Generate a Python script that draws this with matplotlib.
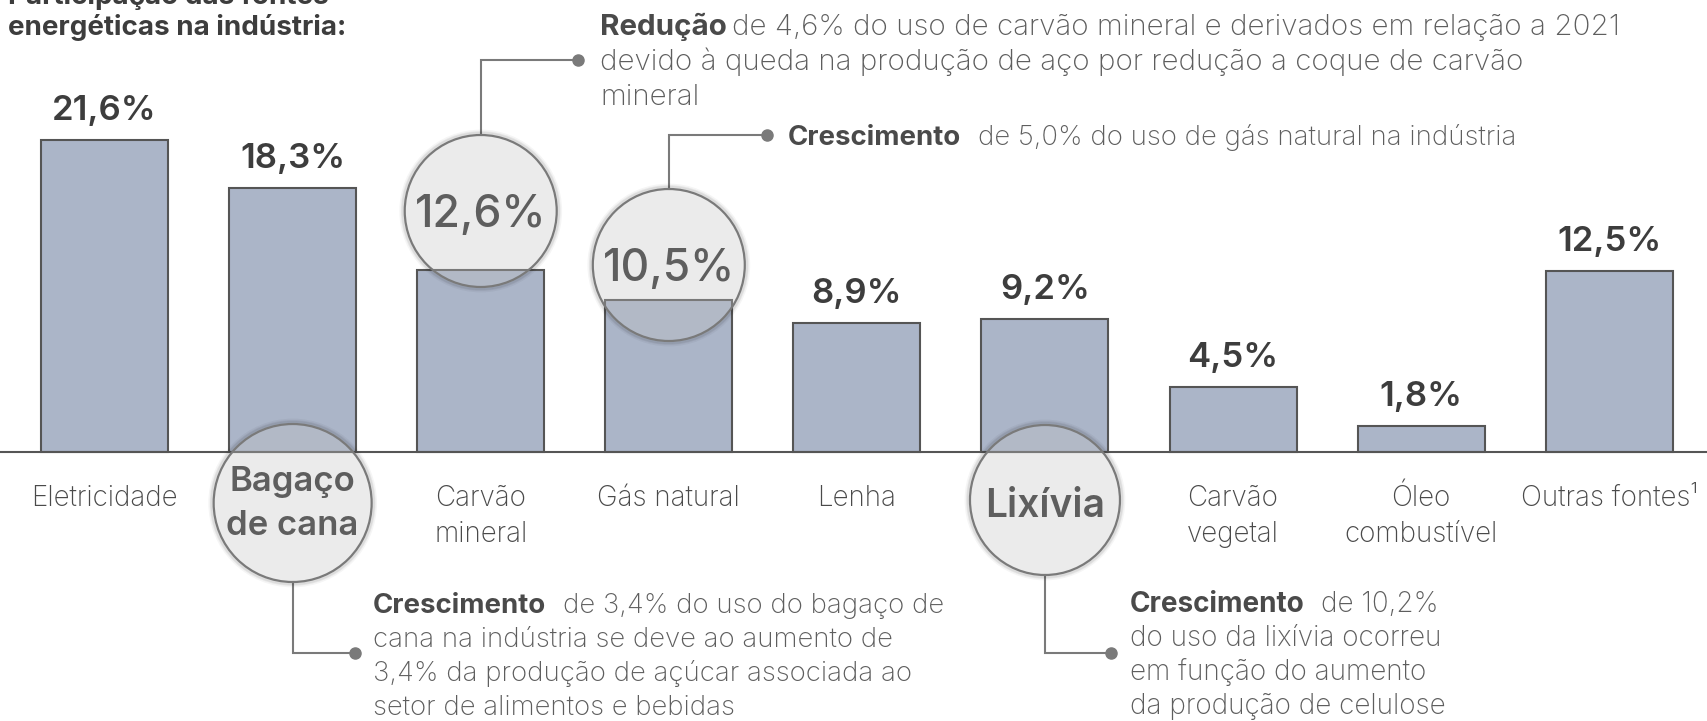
import matplotlib
matplotlib.use("Agg")
import matplotlib.pyplot as plt
from matplotlib.patches import Ellipse

plt.rcParams["font.family"] = ["Inter", "Roboto", "DejaVu Sans"]

categories = ["Eletricidade", "Bagaço\nde cana", "Carvão\nmineral", "Gás natural", "Lenha",
              "Lixívia", "Carvão\nvegetal", "Óleo\ncombustível", "Outras fontes¹"]
shares = [21.6, 18.3, 12.6, 10.5, 8.9, 9.2, 4.5, 1.8, 12.5]
share_labels = ["21,6%", "18,3%", "12,6%", "10,5%", "8,9%", "9,2%", "4,5%", "1,8%", "12,5%"]

title_lines = ["Participação das fontes", "energéticas na indústria:"]

# bars whose value sits in a magnifier circle, and bars whose name does
value_circle_bars = [2, 3]
label_circle_bars = [1, 5]

note_bold = ["Redução", "Crescimento", "Crescimento", "Crescimento"]
note_lines = [
    ["de 4,6% do uso de carvão mineral e derivados em relação a 2021",
     "devido à queda na produção de aço por redução a coque de carvão",
     "mineral"],
    ["de 5,0% do uso de gás natural na indústria"],
    ["de 3,4% do uso do bagaço de",
     "cana na indústria se deve ao aumento de",
     "3,4% da produção de açúcar associada ao",
     "setor de alimentos e bebidas"],
    ["de 10,2%",
     "do uso da lixívia ocorreu",
     "em função do aumento",
     "da produção de celulose"],
]

W, H = 1707, 721
fig = plt.figure(figsize=(W / 100, H / 100), dpi=100)
ax = fig.add_axes([0, 0, 1, 1])
X0, X1 = -0.556, 8.52
Y0, Y1 = -18.6, 31.28
ax.set_xlim(X0, X1)
ax.set_ylim(Y0, Y1)
ax.axis("off")

sx = W / (X1 - X0)
sy = H / (Y1 - Y0)


def px(p):
    return X0 + p / sx


def py(p):
    return Y1 - p / sy


DARK = "#3d3d3d"
MID = "#4a4a4a"
GREY = "#5e5e5e"
LINE = "#7a7a7a"

ax.bar(range(len(shares)), shares, width=0.675, color="#abb5c8",
       edgecolor="#555555", linewidth=1.5, zorder=2)
ax.axhline(0, color="#555555", lw=1.5, zorder=3)

for i, (v, lab) in enumerate(zip(shares, share_labels)):
    if i not in value_circle_bars:
        ax.text(i, v + 20 / sy, lab, ha="center", va="baseline", fontsize=25,
                fontweight="semibold", color=DARK, zorder=6)

for i, cat in enumerate(categories):
    if i in label_circle_bars:
        continue
    for k, line in enumerate(cat.split("\n")):
        ax.text(i, py(506 + 36 * k), line, ha="center", va="baseline", fontsize=20,
                fontweight="light", color=MID)

for k, line in enumerate(title_lines):
    ax.text(px(8), py(4 + 31 * k), line, ha="left", va="baseline", fontsize=20,
            fontweight="bold", color=DARK)


def magnifier(xc, yc, r):
    w, h = 2 * r / sx, 2 * r / sy
    for grow, a in [(8, 0.04), (5, 0.06), (3, 0.08)]:
        ax.add_patch(Ellipse((xc, yc), w + grow / sx, h + grow / sy, fc="none",
                             ec="black", alpha=a, lw=2, zorder=4))
    ax.add_patch(Ellipse((xc, yc), w, h, fc=(0.765, 0.765, 0.765, 0.33),
                         ec="#7a7a7a", lw=1.6, zorder=5))


# magnifier circles: (bar, centre row in px, radius in px)
circles = {2: (211, 76), 3: (265, 76), 1: (503, 79), 5: (500, 75)}
for i, (row, r) in circles.items():
    magnifier(i, py(row), r)

for i in value_circle_bars:
    row, r = circles[i]
    ax.text(i, py(row + 16), share_labels[i], ha="center", va="baseline", fontsize=32,
            fontweight="medium", color=GREY, zorder=7)

bag_row, _ = circles[1]
for k, line in enumerate(categories[1].split("\n")):
    ax.text(1, py(bag_row - 12 + 44 * k), line, ha="center", va="baseline", fontsize=25,
            fontweight="semibold", color=GREY, zorder=7)
lix_row, _ = circles[5]
ax.text(5, py(lix_row + 17), categories[5], ha="center", va="baseline", fontsize=28,
        fontweight="semibold", color=GREY, zorder=7)

# connectors: (bar, elbow row, dot column)
connectors = [(2, 60, 578), (3, 135, 767), (1, 653, 355), (5, 653, 1111)]
for i, elbow, dot_x in connectors:
    row, r = circles[i]
    edge = row - r if elbow < row else row + r
    xs = [i, i, px(dot_x)]
    ys = [py(edge), py(elbow), py(elbow)]
    ax.plot(xs, ys, color=LINE, lw=1.5, zorder=3, solid_joinstyle="miter")
    ax.plot(px(dot_x), py(elbow), "o", ms=8, color=LINE, zorder=3)

renderer = fig.canvas.get_renderer()


def text_width(s, size, weight):
    t = ax.text(0, 0, s, fontsize=size, fontweight=weight)
    w = t.get_window_extent(renderer).width
    t.remove()
    return w


# note blocks: left column, first baseline, line step, gap after bold,
# and which line must end at which column (to match the reference width)
note_pos = [(600, 35, 35, 4, 0, 1620), (788, 145, 34, 15, 0, 1515),
            (373, 613, 34, 15, 0, 944), (1130, 612, 34, 15, 1, 1442)]
BASE = 18
for (x, y, step, gap, fit_k, right), bold, lines in zip(note_pos, note_bold, note_lines):
    if fit_k == 0:
        w = text_width(bold, BASE, "bold") + gap + text_width(lines[0], BASE, "light")
    else:
        w = text_width(lines[fit_k], BASE, "light")
    size = BASE * (right - x) / w
    g = gap * size / BASE
    t = ax.text(px(x), py(y), bold, ha="left", va="baseline", fontsize=size,
                fontweight="bold", color=MID)
    bb = t.get_window_extent(renderer)
    x_after = ax.transData.inverted().transform((bb.x1 + g, 0))[0]
    ax.text(x_after, py(y), lines[0], ha="left", va="baseline", fontsize=size,
            fontweight="light", color=GREY)
    for k, line in enumerate(lines[1:], start=1):
        ax.text(px(x), py(y + step * k), line, ha="left", va="baseline", fontsize=size,
                fontweight="light", color=GREY)

fig.savefig("out.png", dpi=100)
